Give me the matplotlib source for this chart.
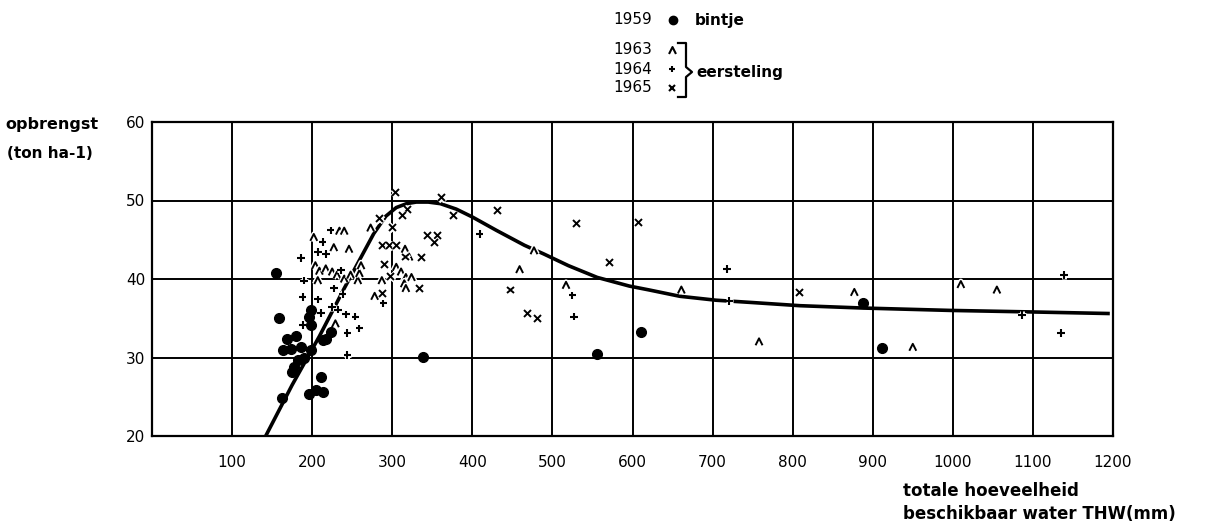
import numpy as np
import matplotlib.pyplot as plt
from matplotlib.path import Path
from matplotlib import patheffects as pe

# opbrengst (ton/ha) tegen totale hoeveelheid beschikbaar water THW (mm)

# 1959 bintje
bintje_x = [155, 158, 162, 163, 169, 174, 180, 186, 182, 177, 175, 190, 198, 198,
            196, 198, 211, 196, 205, 213, 213, 217, 223, 339, 556, 611, 888, 912]
bintje_y = [40.8, 35.0, 24.8, 30.9, 32.3, 31.1, 32.8, 31.3, 29.7, 28.8, 28.2, 29.9,
            30.9, 36.0, 35.2, 34.1, 27.5, 25.4, 25.8, 25.6, 32.2, 32.4, 33.2, 30.1,
            30.5, 33.3, 36.9, 31.2]

# 1963 eersteling
e63_x = [202, 227, 234, 240, 246, 204, 209, 217, 225, 231, 240, 248, 207, 229, 257,
         259, 261, 273, 278, 287, 305, 311, 317, 324, 315, 317, 316, 321, 459, 477,
         517, 661, 758, 877, 950, 1010, 1055]
e63_y = [45.3, 44.0, 46.1, 46.1, 43.8, 41.7, 41.0, 41.3, 40.9, 40.5, 40.0, 40.5, 39.8,
         34.3, 39.8, 40.7, 41.7, 46.5, 37.8, 39.8, 41.5, 40.9, 40.2, 40.2, 39.4, 38.8,
         43.8, 42.8, 41.2, 43.6, 39.2, 38.6, 32.0, 38.3, 31.3, 39.3, 38.6]

# 1964 eersteling
e64_x = [223, 213, 207, 217, 186, 190, 236, 227, 238, 188, 207, 225, 232, 211, 188,
         242, 254, 259, 244, 244, 289, 409, 525, 527, 718, 721, 1139, 1135, 1086]
e64_y = [46.2, 44.7, 43.4, 43.2, 42.7, 39.8, 41.1, 38.8, 38.1, 37.7, 37.4, 36.4, 36.1,
         35.7, 34.1, 35.5, 35.2, 33.7, 33.1, 30.3, 36.9, 45.7, 37.9, 35.2, 41.3, 37.2,
         40.5, 33.1, 35.4]

# 1965 eersteling
e65_x = [304, 361, 319, 313, 284, 376, 300, 288, 296, 305, 317, 336, 344, 357, 353,
         290, 298, 288, 334, 432, 530, 608, 571, 448, 469, 481, 809]
e65_y = [51.0, 50.4, 48.9, 48.1, 47.7, 48.1, 46.6, 44.3, 44.3, 44.3, 42.8, 42.7, 45.5,
         45.5, 44.6, 41.9, 40.3, 38.1, 38.8, 48.7, 47.1, 47.2, 42.1, 38.6, 35.6, 35.0,
         38.3]

# getekende responscurve
curve_x = [142, 175, 209, 240, 277, 292, 305, 318, 330, 345, 360, 380, 400, 430, 465,
           489, 520, 556, 596, 621, 659, 704, 750, 809, 888, 996, 1100, 1196]
curve_y = [20.0, 26.5, 32.7, 38.8, 45.8, 48.0, 49.1, 49.6, 49.8, 49.8, 49.6, 48.9,
           47.9, 46.2, 44.3, 43.2, 41.7, 40.2, 39.1, 38.6, 37.8, 37.3, 37.0, 36.6,
           36.3, 36.0, 35.8, 35.6]

x_ticks = [100, 200, 300, 400, 500, 600, 700, 800, 900, 1000, 1100, 1200]
y_ticks = [20, 30, 40, 50, 60]

plt.rcParams['font.family'] = 'DejaVu Sans'

W, H = 1208, 525
fig = plt.figure(figsize=(W / 100, H / 100), dpi=100)
ax = fig.add_axes([152 / W, 1 - 436 / H, 961 / W, 314 / H])

caret = Path([(-1, -1), (0, 1), (1, -1)], [Path.MOVETO, Path.LINETO, Path.LINETO])
halo = [pe.withStroke(linewidth=3.5, foreground='white')]

ax.plot(curve_x, curve_y, color='black', lw=2.6, zorder=2, solid_capstyle='butt')
ax.plot(bintje_x, bintje_y, ls='none', marker='o', ms=7, color='black', zorder=4)
ax.plot(e63_x, e63_y, ls='none', marker=caret, ms=5, mfc='none', mec='black',
        mew=1.4, zorder=3, path_effects=halo)
ax.plot(e64_x, e64_y, ls='none', marker='+', ms=5.5, mec='black', mew=1.5,
        zorder=3, path_effects=halo)
ax.plot(e65_x, e65_y, ls='none', marker='x', ms=5, mec='black', mew=1.4,
        zorder=3, path_effects=halo)

ax.set_xlim(0, 1200)
ax.set_ylim(20, 60)
ax.set_xticks(x_ticks)
ax.set_yticks(y_ticks)
ax.tick_params(length=0, labelsize=11)
ax.tick_params(axis='x', pad=14)
ax.tick_params(axis='y', pad=5)
ax.set_axisbelow(True)
ax.grid(True, color='black', lw=1.4)
for s in ax.spines.values():
    s.set_linewidth(1.6)

# overlay in pixelcoordinaten voor labels en legenda
ov = fig.add_axes([0, 0, 1, 1])
ov.set_xlim(0, W)
ov.set_ylim(H, 0)
ov.axis('off')

ov.text(5, 125, 'opbrengst', fontsize=11.5, fontweight='bold', va='center')
ov.text(7, 153, '(ton ha-1)', fontsize=11, fontweight='bold', va='center')
ov.text(903, 491, 'totale hoeveelheid', fontsize=12, fontweight='bold', va='center')
ov.text(903, 514, 'beschikbaar water THW(mm)', fontsize=12, fontweight='bold',
        va='center')

# legenda
ov.text(613, 20, '1959', fontsize=11, va='center')
ov.plot([673], [20], ls='none', marker='o', ms=6, color='black')
ov.text(695, 20, 'bintje', fontsize=11, fontweight='bold', va='center')
for yy, lab, mk in [(50, '1963', caret), (69, '1964', '+'), (88, '1965', 'x')]:
    ov.text(613, yy, lab, fontsize=11, va='center')
    ov.plot([672], [yy], ls='none', marker=mk, ms=5, mfc='none', mec='black', mew=1.5)
ov.plot([678, 686, 686, 692, 686, 686, 678], [43, 43, 67, 72, 77, 97, 97],
        color='black', lw=1.6)
ov.text(696, 73, 'eersteling', fontsize=11, fontweight='bold', va='center')

fig.savefig('out.png', dpi=100, facecolor='white')
